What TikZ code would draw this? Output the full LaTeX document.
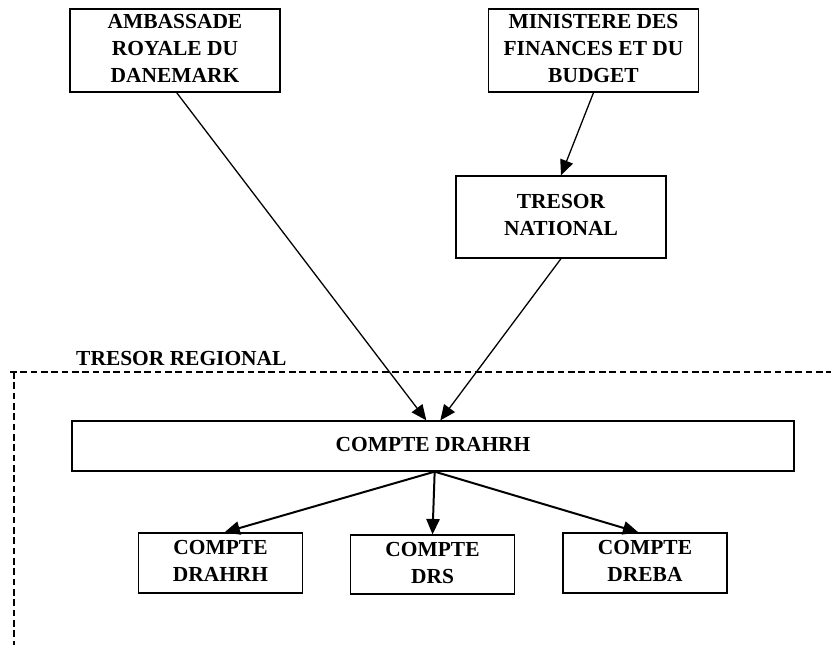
\documentclass[tikz,border=0pt]{standalone}
\usepackage{fontspec}
\setmainfont{Liberation Serif}
\usetikzlibrary{arrows.meta}

\begin{document}
\begin{tikzpicture}[x=0.03cm,y=-0.03cm,
		box/.style={draw=black,line width=1.1pt,inner sep=0pt,font=\bfseries\fontsize{18.3}{23}\selectfont},
		flow/.style={line width=1.1pt,-{Triangle[length=0.46cm,width=0.4cm]}},
		flowthick/.style={line width=1.7pt,-{Triangle[length=0.46cm,width=0.4cm]}},
		zone/.style={line width=1.6pt,dash pattern=on 0.2cm off 0.11cm}]
		\useasboundingbox (0,0) rectangle (831,645);
		
		\node[box,minimum width=6.3cm,minimum height=2.49cm] (ambassade) at (175,50.5){\begin{tabular}{c}AMBASSADE\\ROYALE DU\\DANEMARK\end{tabular}};
		
		\node[box,minimum width=6.3cm,minimum height=2.49cm] (ministere) at (593.5,50.5){\begin{tabular}{c}MINISTERE DES\\FINANCES ET DU\\BUDGET\end{tabular}};
		
		\node[box,minimum width=6.3cm,minimum height=2.46cm] (tresornat) at (561,217){\begin{tabular}{c}TRESOR\\NATIONAL\end{tabular}};
		
		\node[font=\bfseries\fontsize{18.3}{23}\selectfont,inner sep=0pt,anchor=base west] (tresorreg) at (76,365){TRESOR REGIONAL};
		
		\draw[zone] (10,372) -- (831,372);
		\draw[zone] (14,372) -- (14,645);
		
		\node[box,minimum width=21.66cm,minimum height=1.5cm] (drahrh) at (433,446){\begin{tabular}{c}COMPTE DRAHRH\end{tabular}};
		
		\node[box,minimum width=4.92cm,minimum height=1.8cm] (cdrahrh) at (220.5,563){\begin{tabular}{c}COMPTE\\DRAHRH\end{tabular}};
		\node[box,minimum width=4.92cm,minimum height=1.77cm] (cdrs) at (432.5,564.5){\begin{tabular}{c}COMPTE\\DRS\end{tabular}};
		\node[box,minimum width=4.92cm,minimum height=1.8cm] (cdreba) at (645,563){\begin{tabular}{c}COMPTE\\DREBA\end{tabular}};
		
		% arrows
		\draw[flow] (ministere.south) -- (tresornat.north);
		\draw[flow] ([xshift=0.05cm]ambassade.south) -- ([xshift=-0.2cm]drahrh.north);
		\draw[flow] (tresornat.south) -- ([xshift=0.22cm]drahrh.north);
		
		\draw[flowthick] ([xshift=0.05cm]drahrh.south) -- ([xshift=0.12cm]cdrahrh.north);
		\draw[flowthick] ([xshift=0.05cm]drahrh.south) -- (cdrs.north);
		\draw[flowthick] ([xshift=0.05cm]drahrh.south) -- ([xshift=-0.2cm]cdreba.north);
	\end{tikzpicture}
\end{document}
